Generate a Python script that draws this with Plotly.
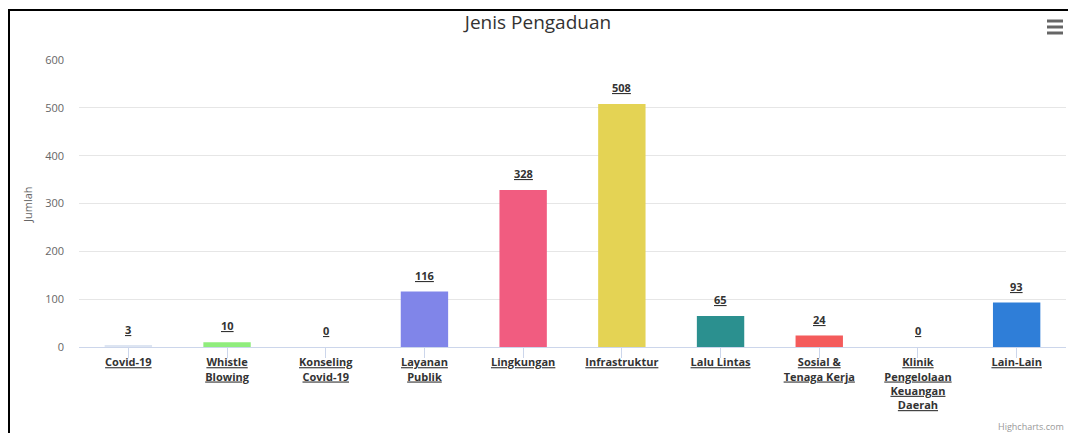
import plotly.graph_objects as go

# ── Data ──────────────────────────────────────────────────────────────────────
categories = [
    "Covid-19",
    "Whistle<br>Blowing",
    "Konseling<br>Covid-19",
    "Layanan<br>Publik",
    "Lingkungan",
    "Infrastruktur",
    "Lalu Lintas",
    "Sosial &<br>Tenaga Kerja",
    "Klinik<br>Pengelolaan<br>Keuangan<br>Daerah",
    "Lain-Lain",
]
counts = [3, 10, 0, 116, 328, 508, 65, 24, 0, 93]
bar_colors = [
    "#dde5f2", "#90ed7d", "#f7a35c", "#8085e9", "#f15c80",
    "#e4d354", "#2b908f", "#f45b5b", "#91e8e1", "#2f7ed8",
]
y_ticks = [0, 100, 200, 300, 400, 500, 600]

# ── Geometry ──────────────────────────────────────────────────────────────────
# figure fills the page (body margin removed in post_script)
W, H = 1068, 433
X0, X1, Y0, Y1 = 79, 1066, 60, 347          # plot area in page pixels
L, R, T, B = X0, W - X1, Y0, H - Y1
PW, PH = X1 - X0, Y1 - Y0


def px(x):
    return (x - X0) / PW


def py(y):
    return (Y1 - y) / PH


FONT = "Open Sans, Lucida Grande, sans-serif"

fig = go.Figure()
fig.add_trace(
    go.Bar(
        x=list(range(len(categories))),
        y=counts,
        marker=dict(color=bar_colors, line=dict(width=0)),
        hovertemplate="%{y}<extra></extra>",
    )
)

# data labels, a little above each bar
for i, v in enumerate(counts):
    fig.add_annotation(
        x=i, y=v, xref="x", yref="y",
        text=f"<b>{v}</b>", showarrow=False,
        xanchor="center", yanchor="bottom", yshift=7,
        font=dict(family=FONT, size=11, color="#333333", lineposition="under"),
    )

fig.update_layout(
    width=W,
    height=H,
    margin=dict(l=L, r=R, t=T, b=B),
    paper_bgcolor="white",
    plot_bgcolor="white",
    showlegend=False,
    bargap=0.52,
    font=dict(family=FONT, color="#666666", size=11),
    title=dict(
        text="Jenis Pengaduan",
        x=538 / W, xanchor="center", xref="container",
        y=1 - 22 / H, yanchor="middle", yref="container",
        font=dict(family="Liberation Sans Narrow, Open Sans, sans-serif", size=19, color="#333333"),
    ),
    xaxis=dict(
        tickmode="array",
        tickvals=list(range(len(categories))),
        ticktext=[f"<b>{c}</b>" for c in categories],
        tickfont=dict(family=FONT, size=11, color="#333333", lineposition="under"),
        tickson="boundaries",
        ticks="outside",
        ticklen=10,
        tickcolor="#ccd6eb",
        showline=True,
        linecolor="#ccd6eb",
        linewidth=1,
        showgrid=False,
        range=[-0.5, len(categories) - 0.5],
        tickangle=0,
        ticklabelstandoff=-5,
    ),
    yaxis=dict(
        range=[0, 600],
        tickmode="array",
        tickvals=y_ticks,
        tickfont=dict(family=FONT, size=11, color="#666666"),
        showgrid=True,
        gridcolor="#e6e6e6",
        gridwidth=1,
        zeroline=False,
        ticks="",
        ticklabelstandoff=14,
    ),
)

# y-axis title
fig.add_annotation(
    text="Jumlah", textangle=-90,
    x=px(27), y=py(205), xref="paper", yref="paper",
    xanchor="center", yanchor="middle",
    showarrow=False, font=dict(family=FONT, size=11, color="#666666"),
)

# credit
fig.add_annotation(
    text="Highcharts.com",
    x=px(1066), y=py(426), xref="paper", yref="paper",
    xanchor="right", yanchor="middle",
    showarrow=False, font=dict(family=FONT, size=9, color="#999999"),
)

# outer frame (left and top edges of the screenshot border)
fig.add_shape(type="line", xref="paper", yref="paper",
              x0=px(9), x1=px(9), y0=py(10), y1=py(H + 10),
              line=dict(color="black", width=2))
fig.add_shape(type="line", xref="paper", yref="paper",
              x0=px(8), x1=px(W + 10), y0=py(10), y1=py(10),
              line=dict(color="black", width=2))

# context menu icon
for yy in (21, 27, 33):
    fig.add_shape(type="line", xref="paper", yref="paper",
                  x0=px(1047), x1=px(1063), y0=py(yy), y1=py(yy),
                  line=dict(color="#666666", width=3))

fig.write_html(
    "out.html",
    config={"displayModeBar": False},
    post_script="document.body.style.margin='0';document.body.style.overflow='hidden';",
)
